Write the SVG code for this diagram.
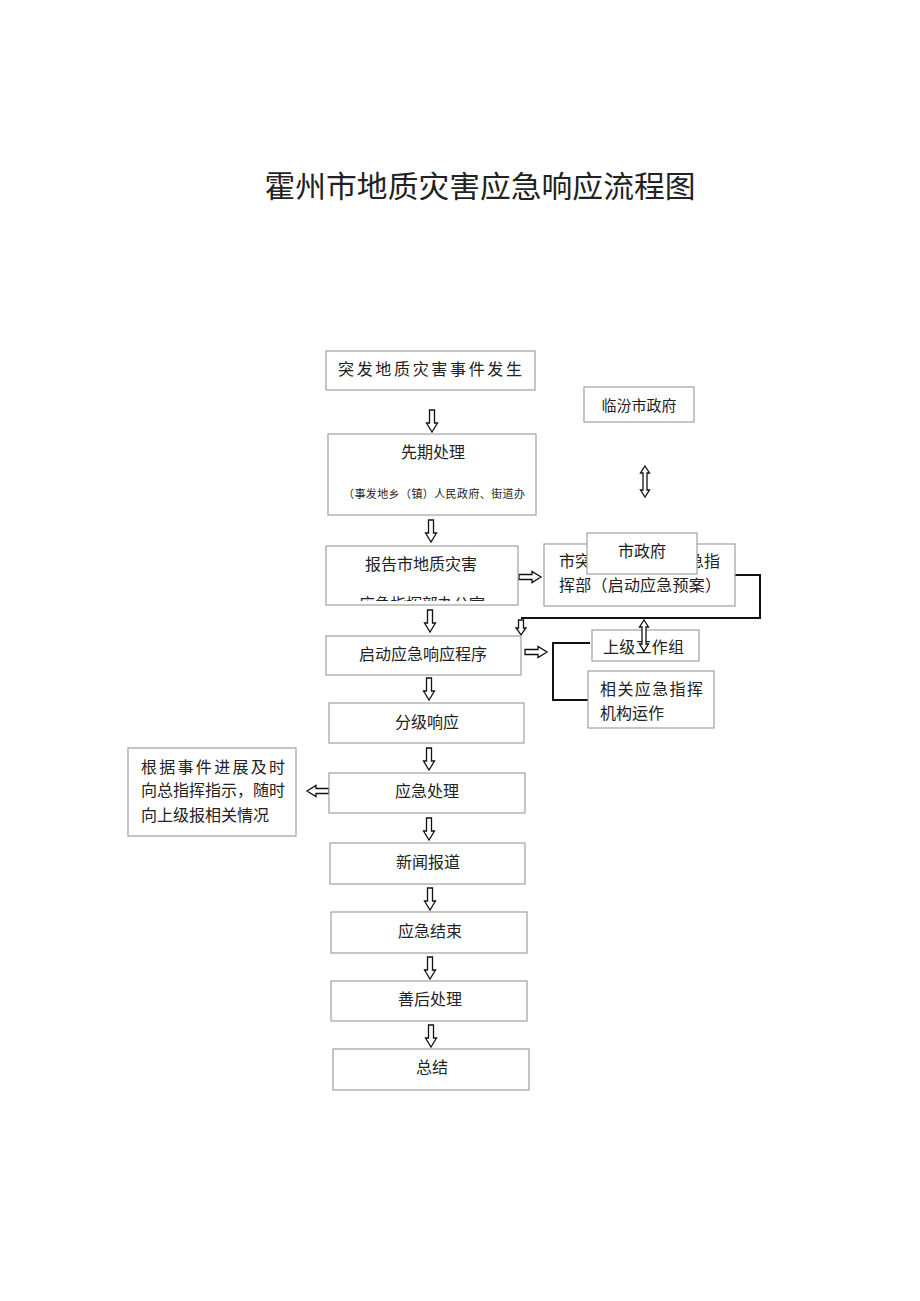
<svg xmlns="http://www.w3.org/2000/svg" width="920" height="1301" viewBox="0 0 920 1301">
<style>
text{font-family:"Noto Sans CJK SC","Noto Sans",sans-serif;fill:#222;font-size:16px}
.t{text-anchor:middle}
.box{fill:#fff;stroke:#a0a0a0;stroke-width:1.2}
.arr{fill:#fff;stroke:#111;stroke-width:1.3;stroke-linejoin:miter}
.ln{fill:none;stroke:#111;stroke-width:2}
</style>
<defs>
<path id="ad" d="M-2.5,0 H2.5 V13 H5.5 L0,22 L-5.5,13 H-2.5 Z"/>
<path id="ar" d="M0,-2.5 V2.5 H13 V5.5 L22,0 L13,-5.5 V-2.5 Z"/>
<path id="dv" d="M0,0 L4.5,7 H2 V24 H4.5 L0,31 L-4.5,24 H-2 V7 H-4.5 Z"/>
<clipPath id="cp"><rect x="326" y="546" width="192" height="55"/></clipPath>
</defs>
<rect width="920" height="1301" fill="#fff"/>
<text class="t" x="480" y="197" style="font-size:30px" textLength="431" lengthAdjust="spacingAndGlyphs">霍州市地质灾害应急响应流程图</text>

<g id="connectors">
<use href="#ad" class="arr" x="432" y="410"/>
<use href="#ad" class="arr" x="431" y="520"/>
<use href="#ad" class="arr" x="430" y="610"/>
<use href="#ad" class="arr" x="429" y="678"/>
<use href="#ad" class="arr" x="429" y="748"/>
<use href="#ad" class="arr" x="429" y="818"/>
<use href="#ad" class="arr" x="430" y="888"/>
<use href="#ad" class="arr" x="430" y="957"/>
<use href="#ad" class="arr" x="431" y="1025"/>
<use href="#ar" class="arr" x="519" y="577"/>
<use href="#ar" class="arr" x="525" y="652"/>
<use href="#ar" class="arr" transform="translate(329,791) scale(-1,1)"/>
<use href="#dv" class="arr" x="645" y="466"/>
<polyline class="ln" points="735,575 760,575 760,618 521,618"/>
<path class="arr" d="M518.5,620 H523.5 V628 H526 L521,635 L516,628 H518.5 Z"/>
<polyline class="ln" points="590,643 553,643 553,700 588,700"/>
</g>

<g id="n1"><rect class="box" x="326" y="351" width="209" height="39"/>
<text x="338" y="375" textLength="184" lengthAdjust="spacing">突发地质灾害事件发生</text></g>

<g id="n2"><rect class="box" x="584" y="387" width="110" height="35"/>
<text class="t" x="639" y="411" style="font-size:15px">临汾市政府</text></g>

<g id="n3"><rect class="box" x="328" y="434" width="208" height="81"/>
<text class="t" x="433" y="458">先期处理</text>
<text x="343" y="498" style="font-size:11px" textLength="182" lengthAdjust="spacing">（事发地乡（镇）人民政府、街道办</text></g>

<g id="n4"><rect class="box" x="326" y="546" width="192" height="59"/>
<text class="t" x="421" y="570">报告市地质灾害</text>
<text x="359" y="610" clip-path="url(#cp)" textLength="126" lengthAdjust="spacing">应急指挥部办公室</text></g>

<g id="n5"><rect class="box" x="544" y="544" width="191" height="62"/>
<text x="559" y="567">市突</text>
<text x="688" y="567">急指</text>
<text x="559" y="591" textLength="162" lengthAdjust="spacing">挥部（启动应急预案）</text></g>

<g id="n6"><rect class="box" x="587" y="533" width="110" height="41"/>
<text class="t" x="642" y="557">市政府</text></g>

<g id="n7"><rect class="box" x="326" y="636" width="195" height="39"/>
<text class="t" x="423" y="660">启动应急响应程序</text></g>

<g id="n8"><rect class="box" x="592" y="630" width="107" height="31"/>
<text x="603" y="653" textLength="81" lengthAdjust="spacing">上级工作组</text>
<use href="#dv" class="arr" x="644" y="620"/></g>

<g id="n9"><rect class="box" x="588" y="671" width="126" height="57"/>
<text x="600" y="695" textLength="103" lengthAdjust="spacing">相关应急指挥</text>
<text x="600" y="719">机构运作</text></g>

<g id="n10"><rect class="box" x="329" y="703" width="195" height="40"/>
<text class="t" x="427" y="728">分级响应</text></g>

<g id="n11"><rect class="box" x="329" y="773" width="196" height="40"/>
<text class="t" x="427" y="797">应急处理</text></g>

<g id="n12"><rect class="box" x="128" y="748" width="168" height="88"/>
<text x="141" y="773" textLength="144" lengthAdjust="spacing">根据事件进展及时</text>
<text x="141" y="796" textLength="144" lengthAdjust="spacing">向总指挥指示，随时</text>
<text x="141" y="821">向上级报相关情况</text></g>

<g id="n13"><rect class="box" x="330" y="843" width="195" height="41"/>
<text class="t" x="428" y="868">新闻报道</text></g>

<g id="n14"><rect class="box" x="331" y="912" width="196" height="41"/>
<text class="t" x="430" y="937">应急结束</text></g>

<g id="n15"><rect class="box" x="331" y="981" width="196" height="40"/>
<text class="t" x="430" y="1005">善后处理</text></g>

<g id="n16"><rect class="box" x="333" y="1049" width="196" height="41"/>
<text class="t" x="432" y="1073">总结</text></g>
</svg>
